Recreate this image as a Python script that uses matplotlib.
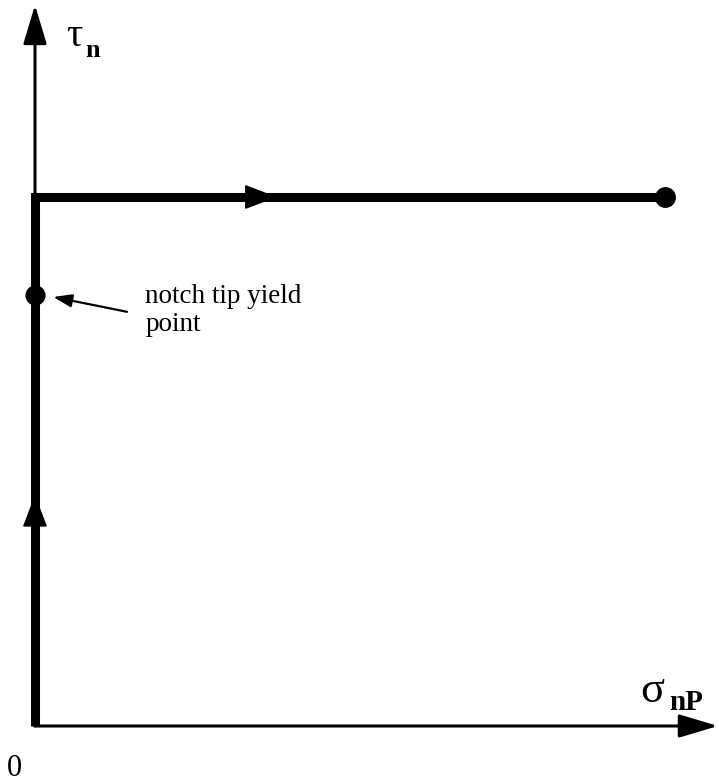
import matplotlib
matplotlib.use('Agg')
import matplotlib.pyplot as plt

plt.rcParams['font.family'] = ['Liberation Serif', 'DejaVu Serif']

# Loading path in the (sigma_nP, tau_n) plane, normalised units
sigma_path = [0.0, 0.0, 1.0]
tau_path = [0.0, 1.0, 1.0]
# notch tip yield point on the first leg
sigma_yield = 0.0
tau_yield = 0.815
# end of each axis
sigma_axis_end = 1.084
tau_axis_end = 1.363

fig = plt.figure(figsize=(7.19, 7.84), dpi=100)
ax = fig.add_axes([0, 0, 1, 1])
# origin sits 35 px from the left and 58 px above the bottom edge
ax.set_xlim(-35 / 630, 684 / 630)
ax.set_ylim(-58 / 529, 726 / 529)
ax.axis('off')

# axes with arrow heads
axis_arrow = dict(arrowstyle='-|>,head_length=1.2,head_width=0.36', color='black',
                  lw=2.2, mutation_scale=20, shrinkA=0, shrinkB=0)
ax.annotate('', xy=(sigma_axis_end, 0), xytext=(0, 0), arrowprops=axis_arrow)
ax.annotate('', xy=(0, tau_axis_end), xytext=(0, 0), arrowprops=axis_arrow)

# loading path
ax.plot(sigma_path, tau_path, color='black', lw=6.5, solid_joinstyle='miter',
        solid_capstyle='butt')
ax.plot(sigma_path[-1], tau_path[-1], 'o', color='black', ms=14)
ax.plot(sigma_yield, tau_yield, 'o', color='black', ms=13.5)

# direction arrows on the two legs
dir_arrow = dict(arrowstyle='-|>,head_length=1.05,head_width=0.4', color='black',
                 lw=1, mutation_scale=20, shrinkA=0, shrinkB=0)
ax.annotate('', xy=(0.384, 1.0), xytext=(0.3, 1.0), arrowprops=dir_arrow)
ax.annotate('', xy=(0.0, 0.437), xytext=(0.0, 0.35), arrowprops=dir_arrow)

# callout for the yield point
ax.annotate('', xy=(0.029, 0.811), xytext=(0.146, 0.783),
            arrowprops=dict(arrowstyle='-|>,head_length=0.8,head_width=0.28',
                            color='black', lw=1.6, mutation_scale=14,
                            shrinkA=0, shrinkB=0))
ax.text(0.175, 0.836, 'notch tip yield\npoint', fontsize=19.5, ha='left', va='top',
        linespacing=1.15)

# axis labels
ax.text(0.05, 1.285, 'τ', fontsize=29, ha='left', va='baseline')
ax.text(0.08, 1.265, 'n', fontsize=19, fontweight='bold', ha='left', va='baseline')
ax.text(0.96, 0.045, 'σ', fontsize=32, ha='left', va='baseline')
ax.text(1.007, 0.03, 'nP', fontsize=21, fontweight='bold', ha='left', va='baseline')
ax.text(-0.045, -0.1077, '0', fontsize=22, ha='left', va='bottom')

fig.savefig('out.png', dpi=100)
